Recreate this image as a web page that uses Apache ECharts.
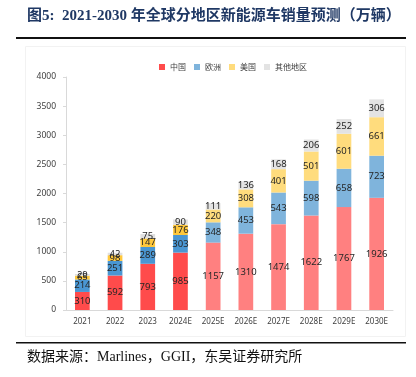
<!DOCTYPE html>
<html><head><meta charset="utf-8">
<script src="https://cdn.jsdelivr.net/npm/echarts@6/dist/echarts.min.js"></script>
<style>html,body{margin:0;padding:0;background:#fff}#c{width:416px;height:377px}</style>
</head><body><div id="c"></div>
<script>
const categories = ['2021','2022','2023','2024E','2025E','2026E','2027E','2028E','2029E','2030E'];
const china = [310,592,793,985,1157,1310,1474,1622,1767,1926];
const europe = [214,251,289,303,348,453,543,598,658,723];
const usa = [65,98,147,176,220,308,401,501,601,661];
const others = [29,42,75,90,111,136,168,206,252,306];
const seriesNames = ['中国','欧洲','美国','其他地区'];
const yTicks = [0,500,1000,1500,2000,2500,3000,3500,4000];

const darkColors = ['#FF4B4B','#4A96D2','#FFC83C','#E0E0E0'];
const lightColors = ['#FF8080','#7FB4DC','#FFDC7D','#E3E3E3'];
const legendColors = ['#FF4B4B','#7FB4DC','#FFDC7D','#E3E3E3'];
const nActual = 4;

const chart = echarts.init(document.getElementById('c'));
const dataSets = [china, europe, usa, others];
const series = dataSets.map((arr, si) => ({
  name: seriesNames[si],
  type: 'bar',
  stack: 'total',
  barWidth: '45%',
  color: legendColors[si],
  label: {show: true, position: 'inside', color: '#262626', fontSize: 9.5, fontFamily: 'Noto Sans, sans-serif'},
  data: arr.map((v, i) => ({value: v, itemStyle: {color: i < nActual ? darkColors[si] : lightColors[si]}}))
}));

chart.setOption({
  animation: false,
  backgroundColor: '#fff',
  graphic: [
    {type:'text', left: 27, top: 9, style:{text:'图5:  2021-2030 年全球分地区新能源车销量预测（万辆）', fill:'#1F3864', font:'bold 15px "Liberation Serif","Noto Sans CJK SC",serif'}},
    {type:'rect', shape:{x:16,y:37,width:390,height:2}, style:{fill:'#111'}},
    {type:'rect', shape:{x:25.5,y:46.5,width:380,height:290}, style:{fill:'none', stroke:'#F2F2F2', lineWidth:1}},
    {type:'rect', shape:{x:16,y:342,width:390,height:1.5}, style:{fill:'#111'}},
    {type:'text', left: 27, top: 350, style:{text:'数据来源：Marlines，GGII，东吴证券研究所', fill:'#111', font:'14px "Liberation Serif","Noto Sans CJK SC",serif'}}
  ],
  legend: {
    top: 58, left: 154, itemWidth: 6, itemHeight: 6, itemGap: 8,
    icon: 'rect',
    textStyle: {fontSize: 8, color: '#404040', fontFamily: 'Noto Sans CJK SC'},
    data: seriesNames
  },
  grid: {left: 66, right: 23, top: 77, bottom: 67},
  xAxis: {
    type: 'category', data: categories,
    axisLine: {lineStyle: {color: '#D9D9D9'}},
    axisTick: {show: false},
    axisLabel: {interval: 0, fontSize: 8, color: '#404040', margin: 8, fontFamily: 'Noto Sans, sans-serif'}
  },
  yAxis: {
    type: 'value', min: 0, max: 4000, interval: 500,
    splitLine: {show: false},
    axisLine: {show: true, lineStyle: {color: '#D9D9D9'}},
    axisTick: {show: true, length: 3, lineStyle: {color: '#D9D9D9'}},
    axisLabel: {fontSize: 8.5, color: '#404040', margin: 10, fontFamily: 'Noto Sans, sans-serif',
      formatter: v => yTicks.includes(v) ? String(v) : ''}
  },
  series: series
});
</script></body></html>
